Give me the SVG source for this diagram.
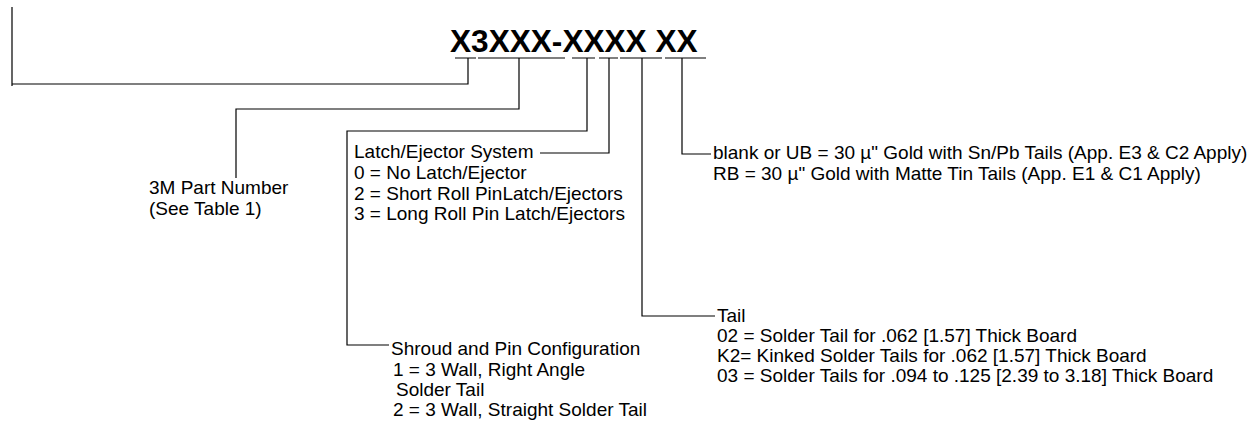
<svg xmlns="http://www.w3.org/2000/svg" width="1251" height="422" viewBox="0 0 1251 422">
<style>
.t{font-family:"Liberation Sans",Arial,sans-serif;font-size:19px;fill:#000}
.h{font-family:"Liberation Sans",Arial,sans-serif;font-size:31.6px;font-weight:bold;fill:#000}
.c{fill:none;stroke:#000;stroke-width:1.2}
</style>
<rect width="1251" height="422" fill="#fff"/>
<g id="title"><text class="h" x="450" y="52">X3XXX-XXXX XX</text></g>
<g id="connectors" class="c">
<path d="M455,58H476M478,58H565M572,58H595M599,58H618M620,58H662M665,58H706"/>
<path d="M468,58V84H12M12,7V86"/>
<path d="M519,58V109H236V178"/>
<path d="M587,58V131H347V345H389"/>
<path d="M609,58V153H540"/>
<path d="M642,58V316H715"/>
<path d="M682,58V154H711"/>
</g>
<g id="part-number"><text class="t" x="149" y="194">3M Part Number</text><text class="t" x="149" y="215">(See Table 1)</text></g>
<g id="latch"><text class="t" x="354" y="158">Latch/Ejector System</text><text class="t" x="354" y="179">0 = No Latch/Ejector</text><text class="t" x="354" y="200">2 = Short Roll PinLatch/Ejectors</text><text class="t" x="354" y="220">3 = Long Roll Pin Latch/Ejectors</text></g>
<g id="shroud"><text class="t" x="391" y="355">Shroud and Pin Configuration</text><text class="t" x="393" y="376">1 = 3 Wall, Right Angle</text><text class="t" x="396" y="396">Solder Tail</text><text class="t" x="393" y="416">2 = 3 Wall, Straight Solder Tail</text></g>
<g id="tail"><text class="t" x="717" y="322">Tail</text><text class="t" x="717" y="342">02 = Solder Tail for .062 [1.57] Thick Board</text><text class="t" x="717" y="362">K2= Kinked Solder Tails for .062 [1.57] Thick Board</text><text class="t" x="717" y="382">03 = Solder Tails for .094 to .125 [2.39 to 3.18] Thick Board</text></g>
<g id="plating"><text class="t" x="713" y="159">blank or UB = 30 µ" Gold with Sn/Pb Tails (App. E3 &amp; C2 Apply)</text><text class="t" x="713" y="180">RB = 30 µ" Gold with Matte Tin Tails (App. E1 &amp; C1 Apply)</text></g>
</svg>
